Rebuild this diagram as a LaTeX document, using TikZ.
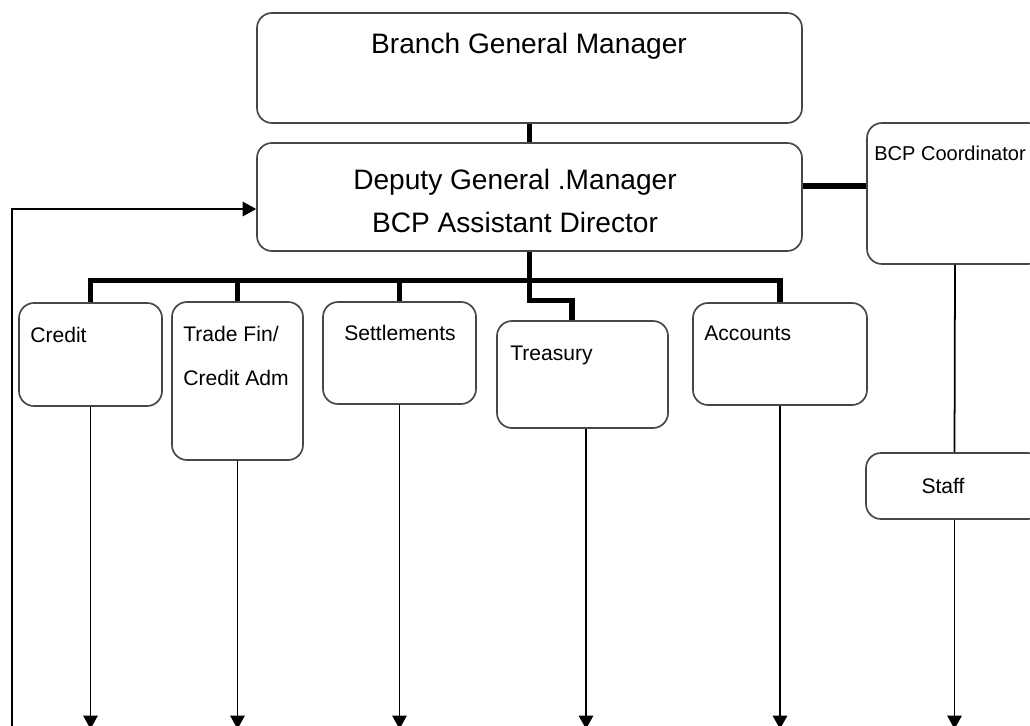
\documentclass[tikz,border=0pt]{standalone}
\usepackage{fontspec}
\setmainfont{Liberation Sans}
\usetikzlibrary{arrows.meta,fit,calc}
\tikzset{
  box/.style={draw=black!72, line width=0.95pt, rounded corners=0.3cm, inner sep=0pt},
  lead/.style={line width=2.9pt},
  thinline/.style={line width=1pt},
  feed/.style={thinline, -{Triangle[width=0.29cm,length=0.27cm]}},
  big/.style={inner sep=0pt, font=\fontsize{16}{19}\selectfont},
  small/.style={inner sep=0pt, font=\fontsize{12}{14}\selectfont},
}
\begin{document}
\begin{tikzpicture}[x=0.02cm, y=-0.02cm]
    \useasboundingbox (0,0) rectangle (1030,726);
    \clip (0,0) rectangle (1030,726);
    %% 方框: 名稱/左上角/右下角 (像素座標, y 向下)
    \foreach \n/\xa/\ya/\xb/\yb in
    {bgm/257/13/802/123,
        dgm/257/143/802/251,
        bcp/867/123/1043/264,
        staff/866/453/1043/519,
        credit/19/303/162/406,
        trade/172/302/303/460,
        settle/323/302/476/404,
        treasury/497/321/668/428,
        accounts/693/303/867/405
    }
    {
        \node[box, fit={(\xa,\ya) (\xb,\yb)}] (\n) {};
    };

    \node[big, anchor=base] (bgm-t) at (529,54) {Branch General Manager};
    \node[big, anchor=base] (dgm-t1) at (515,190) {Deputy General .Manager};
    \node[big, anchor=base] (dgm-t2) at (515,233) {BCP Assistant Director};
    \foreach \v/\x/\y/\t in
    {credit/30/342/Credit,
        trade1/183/341/{Trade Fin/},
        trade2/183/385/{Credit Adm},
        treasury/510/360/Treasury,
        accounts/704/340/Accounts
    }
    {
        \node[small, anchor=base west] (\v-t) at (\x,\y) {\t};
    };
    \node[small, anchor=base west, font=\fontsize{11.4}{14}\selectfont] (bcp-t) at (874,161) {BCP Coordinator};
    \node[small, anchor=base] (settle-t) at (400,340) {Settlements};
    \node[small, anchor=base] (staff-t) at (943,493) {Staff};

    %% 粗線
    \draw[lead] (bgm.south) -- (dgm.north);
    \coordinate (dgm-r) at ([yshift=0.22cm]dgm.east);
    \draw[lead] (dgm-r) -- (dgm-r -| bcp.west);
    \coordinate (bus) at ($(dgm.south)+(0,29)$);
    \draw[lead] (dgm.south) -- (bus);
    \draw[lead, line cap=rect] (credit.north |- bus) -- (accounts.north |- bus);
    \foreach \n in {credit,trade,settle,accounts}
        \draw[lead] (\n.north |- bus) -- (\n.north);
    \draw[lead] (bus) -- ++(0,20) -| ([xshift=-0.21cm]treasury.north);

    %% 細線與箭頭
    \coordinate (bottom) at (0,729);
    \foreach \n in {credit,trade,settle,accounts,staff}
        \draw[feed] (\n.south) -- (\n.south |- bottom);
    \draw[feed] ([xshift=0.07cm]treasury.south) -- ([xshift=0.07cm]treasury.south |- bottom);
    \draw[thinline] (bcp.south) -- (staff.north);
    \coordinate (fb) at (12,729);
    \draw[feed] (fb) |- ([yshift=-0.24cm]dgm.west);
\end{tikzpicture}
\end{document}
